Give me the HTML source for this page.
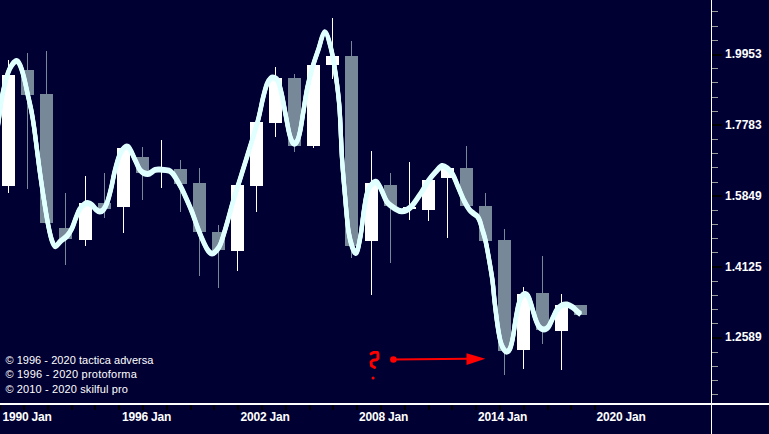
<!DOCTYPE html>
<html><head><meta charset="utf-8"><title>chart</title>
<style>
html,body{margin:0;padding:0;background:#000033;}
body{width:769px;height:434px;overflow:hidden;position:relative;font-family:"Liberation Sans",sans-serif;color:#fff;}
.xl{position:absolute;top:410px;font-size:12px;line-height:14px;font-weight:bold;white-space:nowrap;letter-spacing:-0.2px;}
.yl{position:absolute;left:725px;font-size:12px;line-height:14px;font-weight:bold;white-space:nowrap;}
.cp{position:absolute;left:5.4px;font-size:11px;line-height:14px;white-space:nowrap;}
</style></head><body>
<svg width="769" height="434" viewBox="0 0 769 434" style="position:absolute;left:0;top:0">
<rect width="769" height="434" fill="#000033"/>
<g shape-rendering="crispEdges">
<rect x="8" y="60" width="1" height="133" fill="#ffffff"/>
<rect x="2" y="75" width="13" height="110.5" fill="#ffffff"/>
<rect x="27" y="53" width="1" height="136" fill="#778899"/>
<rect x="21" y="70" width="13" height="24.5" fill="#778899"/>
<rect x="46" y="51" width="1" height="172" fill="#778899"/>
<rect x="40" y="94" width="13" height="129" fill="#778899"/>
<rect x="65" y="193" width="1" height="71.5" fill="#778899"/>
<rect x="59" y="228" width="13" height="10.5" fill="#778899"/>
<rect x="85" y="176" width="1" height="70" fill="#ffffff"/>
<rect x="79" y="203" width="13" height="37" fill="#ffffff"/>
<rect x="104" y="173.3" width="1" height="44.2" fill="#778899"/>
<rect x="98" y="203" width="13" height="5.7" fill="#778899"/>
<rect x="123" y="147.7" width="1" height="85.3" fill="#ffffff"/>
<rect x="117" y="147.7" width="13" height="59" fill="#ffffff"/>
<rect x="142" y="147" width="1" height="52.5" fill="#778899"/>
<rect x="136" y="157" width="13" height="16.3" fill="#778899"/>
<rect x="161" y="140" width="1" height="48" fill="#ffffff"/>
<rect x="155" y="169" width="13" height="1" fill="#ffffff"/>
<rect x="180" y="160" width="1" height="51.7" fill="#778899"/>
<rect x="174" y="169" width="13" height="14.7" fill="#778899"/>
<rect x="199" y="168" width="1" height="108" fill="#778899"/>
<rect x="193" y="183" width="13" height="48.7" fill="#778899"/>
<rect x="218" y="225" width="1" height="63" fill="#778899"/>
<rect x="212" y="231.5" width="13" height="18.8" fill="#778899"/>
<rect x="237" y="185" width="1" height="86" fill="#ffffff"/>
<rect x="231" y="185" width="13" height="65.5" fill="#ffffff"/>
<rect x="256" y="122" width="1" height="89.7" fill="#ffffff"/>
<rect x="250" y="122" width="13" height="64" fill="#ffffff"/>
<rect x="275" y="67" width="1" height="69.7" fill="#ffffff"/>
<rect x="269" y="78" width="13" height="44.5" fill="#ffffff"/>
<rect x="294" y="74" width="1" height="77.7" fill="#778899"/>
<rect x="288" y="78" width="13" height="67.5" fill="#778899"/>
<rect x="313" y="58" width="1" height="89.5" fill="#ffffff"/>
<rect x="307" y="65" width="13" height="81" fill="#ffffff"/>
<rect x="332" y="18" width="1" height="60.7" fill="#ffffff"/>
<rect x="326" y="56" width="13" height="9" fill="#ffffff"/>
<rect x="351" y="41" width="1" height="217" fill="#778899"/>
<rect x="345" y="56" width="13" height="190" fill="#778899"/>
<rect x="371" y="151" width="1" height="144.2" fill="#ffffff"/>
<rect x="365" y="183" width="13" height="57.6" fill="#ffffff"/>
<rect x="390" y="173" width="1" height="89.7" fill="#778899"/>
<rect x="384" y="185" width="13" height="20.7" fill="#778899"/>
<rect x="409" y="161.8" width="1" height="57.9" fill="#ffffff"/>
<rect x="403" y="207" width="13" height="2" fill="#ffffff"/>
<rect x="428" y="180" width="1" height="41" fill="#ffffff"/>
<rect x="422" y="180" width="13" height="29.7" fill="#ffffff"/>
<rect x="447" y="168" width="1" height="70" fill="#ffffff"/>
<rect x="441" y="168" width="13" height="10" fill="#ffffff"/>
<rect x="466" y="146" width="1" height="60" fill="#778899"/>
<rect x="460" y="168" width="13" height="38" fill="#778899"/>
<rect x="485" y="193" width="1" height="47.5" fill="#778899"/>
<rect x="479" y="206" width="13" height="34.5" fill="#778899"/>
<rect x="504" y="229" width="1" height="146" fill="#778899"/>
<rect x="498" y="239.7" width="13" height="111" fill="#778899"/>
<rect x="523" y="287" width="1" height="81.7" fill="#ffffff"/>
<rect x="517" y="293.7" width="13" height="56.3" fill="#ffffff"/>
<rect x="542" y="256" width="1" height="87.7" fill="#778899"/>
<rect x="536" y="293" width="13" height="37" fill="#778899"/>
<rect x="561" y="294.2" width="1" height="75.8" fill="#ffffff"/>
<rect x="555" y="305" width="13" height="25.7" fill="#ffffff"/>
<rect x="580" y="305" width="1" height="10" fill="#778899"/>
<rect x="574" y="305" width="13" height="10" fill="#778899"/>
</g>
<g fill="none" stroke="#e0ffff" stroke-width="4.2" stroke-linejoin="round">
<path d="M-3.00,132.00 C-2.50,128.50 -0.80,116.67 0.00,111.00 C0.80,105.33 1.03,102.33 1.80,98.00 C2.57,93.67 3.52,89.32 4.60,85.00 C5.68,80.68 7.07,75.47 8.30,72.10 C9.53,68.73 10.62,66.63 12.00,64.80 C13.38,62.97 15.22,60.95 16.60,61.10 C17.98,61.25 19.07,62.93 20.30,65.70 C21.53,68.47 22.77,72.93 24.00,77.70 C25.23,82.47 26.47,88.77 27.70,94.30 C28.93,99.83 30.33,105.37 31.40,110.90 C32.47,116.43 33.17,120.98 34.10,127.50 C35.03,134.02 35.97,142.03 37.00,150.00 C38.03,157.97 39.12,166.85 40.30,175.30 C41.48,183.75 42.83,192.67 44.10,200.70 C45.37,208.73 46.63,216.97 47.90,223.50 C49.17,230.03 50.43,236.10 51.70,239.90 C52.97,243.70 54.03,246.08 55.50,246.30 C56.97,246.52 58.60,242.90 60.50,241.20 C62.40,239.50 65.00,238.22 66.90,236.10 C68.80,233.98 70.43,231.45 71.90,228.50 C73.37,225.55 74.43,221.57 75.70,218.40 C76.97,215.23 78.02,211.90 79.50,209.50 C80.98,207.10 83.12,205.05 84.60,204.00 C86.08,202.95 87.13,203.00 88.40,203.20 C89.67,203.40 90.93,204.15 92.20,205.20 C93.47,206.25 94.73,208.43 96.00,209.50 C97.27,210.57 98.53,211.60 99.80,211.60 C101.07,211.60 102.33,211.12 103.60,209.50 C104.87,207.88 106.13,205.48 107.40,201.90 C108.67,198.32 109.93,193.27 111.20,188.00 C112.47,182.73 113.45,176.13 115.00,170.30 C116.55,164.47 118.33,156.92 120.50,153.00 C122.67,149.08 125.53,145.57 128.00,146.80 C130.47,148.03 133.23,156.45 135.30,160.40 C137.37,164.35 138.32,168.23 140.40,170.50 C142.48,172.77 145.35,174.10 147.80,174.00 C150.25,173.90 152.80,170.62 155.10,169.90 C157.40,169.18 159.28,169.57 161.60,169.70 C163.92,169.83 167.17,170.08 169.00,170.70 C170.83,171.32 171.38,172.02 172.60,173.40 C173.82,174.78 175.07,177.00 176.30,179.00 C177.53,181.00 178.77,183.10 180.00,185.40 C181.23,187.70 181.78,188.58 183.70,192.80 C185.62,197.02 189.13,204.77 191.50,210.70 C193.87,216.63 195.78,222.92 197.90,228.40 C200.02,233.88 202.52,239.92 204.20,243.60 C205.88,247.28 206.70,248.85 208.00,250.50 C209.30,252.15 210.58,253.50 212.00,253.50 C213.42,253.50 215.05,252.15 216.50,250.50 C217.95,248.85 218.95,248.13 220.70,243.60 C222.45,239.07 224.90,230.48 227.00,223.30 C229.10,216.12 231.18,207.67 233.30,200.50 C235.42,193.33 237.58,187.05 239.70,180.30 C241.82,173.55 244.23,165.70 246.00,160.00 C247.77,154.30 248.32,152.63 250.30,146.10 C252.28,139.57 255.78,128.82 257.90,120.80 C260.02,112.78 261.52,104.05 263.00,98.00 C264.48,91.95 265.53,87.77 266.80,84.50 C268.07,81.23 269.33,79.52 270.60,78.40 C271.87,77.28 273.13,77.28 274.40,77.80 C275.67,78.32 276.93,78.55 278.20,81.50 C279.47,84.45 280.73,89.80 282.00,95.50 C283.27,101.20 284.53,109.17 285.80,115.70 C287.07,122.23 288.33,130.10 289.60,134.70 C290.87,139.30 292.13,142.25 293.40,143.30 C294.67,144.35 296.07,143.07 297.20,141.00 C298.33,138.93 299.15,135.95 300.20,130.90 C301.25,125.85 302.32,117.87 303.50,110.70 C304.68,103.53 305.82,95.08 307.30,87.90 C308.78,80.72 310.57,73.92 312.40,67.60 C314.22,61.28 316.22,55.88 318.25,50.00 C320.28,44.12 322.52,32.72 324.60,32.30 C326.68,31.88 328.89,40.38 330.75,47.50 C332.61,54.62 334.29,64.92 335.75,75.00 C337.21,85.08 338.46,94.17 339.50,108.00 C340.54,121.83 341.08,143.42 342.00,158.00 C342.92,172.58 343.85,182.90 345.00,195.50 C346.15,208.10 347.12,224.02 348.90,233.60 C350.68,243.18 353.77,252.60 355.70,253.00 C357.63,253.40 359.12,243.17 360.50,236.00 C361.88,228.83 362.77,217.58 364.00,210.00 C365.23,202.42 365.98,195.22 367.90,190.50 C369.82,185.78 373.40,182.12 375.50,181.70 C377.60,181.28 378.60,184.63 380.50,188.00 C382.40,191.37 384.57,198.52 386.90,201.90 C389.23,205.28 391.98,206.73 394.50,208.30 C397.02,209.87 399.27,211.52 402.00,211.30 C404.73,211.08 407.73,210.05 410.90,207.00 C414.07,203.95 418.03,197.43 421.00,193.00 C423.97,188.57 426.20,183.98 428.70,180.40 C431.20,176.82 433.78,173.90 436.00,171.50 C438.22,169.10 440.10,166.53 442.00,166.00 C443.90,165.47 445.58,166.85 447.40,168.30 C449.22,169.75 451.07,171.48 452.90,174.70 C454.73,177.92 456.55,183.28 458.40,187.60 C460.25,191.92 462.15,196.90 464.00,200.60 C465.85,204.30 467.83,207.60 469.50,209.80 C471.17,212.00 472.67,212.68 474.00,213.80 C475.33,214.92 476.50,215.22 477.50,216.50 C478.50,217.78 479.25,219.50 480.00,221.50 C480.75,223.50 481.13,225.53 482.00,228.50 C482.87,231.47 484.20,235.13 485.20,239.30 C486.20,243.47 486.80,246.72 488.00,253.50 C489.20,260.28 491.32,272.13 492.40,280.00 C493.48,287.87 493.63,293.10 494.50,300.70 C495.37,308.30 496.57,318.68 497.60,325.60 C498.63,332.52 499.65,338.22 500.70,342.20 C501.75,346.18 502.85,347.93 503.90,349.50 C504.95,351.07 505.97,351.77 507.00,351.60 C508.03,351.43 509.13,350.77 510.10,348.50 C511.07,346.23 511.93,342.50 512.80,338.00 C513.67,333.50 514.37,327.00 515.30,321.50 C516.23,316.00 517.37,309.15 518.40,305.00 C519.43,300.85 520.37,298.42 521.50,296.60 C522.63,294.78 523.98,293.93 525.20,294.10 C526.42,294.27 527.68,295.45 528.80,297.60 C529.92,299.75 530.77,303.37 531.90,307.00 C533.03,310.63 534.40,316.12 535.60,319.40 C536.80,322.68 537.72,325.03 539.10,326.70 C540.48,328.37 542.33,329.40 543.90,329.40 C545.47,329.40 547.05,328.53 548.50,326.70 C549.95,324.87 551.22,321.18 552.60,318.40 C553.98,315.62 555.23,312.18 556.80,310.00 C558.37,307.82 560.28,306.22 562.00,305.30 C563.72,304.38 565.38,304.22 567.10,304.50 C568.82,304.78 570.73,305.97 572.30,307.00 C573.87,308.03 575.12,309.50 576.50,310.70 C577.88,311.90 579.92,313.62 580.60,314.20" transform="translate(0,-0.9)"/>
<path d="M-3.00,132.00 C-2.50,128.50 -0.80,116.67 0.00,111.00 C0.80,105.33 1.03,102.33 1.80,98.00 C2.57,93.67 3.52,89.32 4.60,85.00 C5.68,80.68 7.07,75.47 8.30,72.10 C9.53,68.73 10.62,66.63 12.00,64.80 C13.38,62.97 15.22,60.95 16.60,61.10 C17.98,61.25 19.07,62.93 20.30,65.70 C21.53,68.47 22.77,72.93 24.00,77.70 C25.23,82.47 26.47,88.77 27.70,94.30 C28.93,99.83 30.33,105.37 31.40,110.90 C32.47,116.43 33.17,120.98 34.10,127.50 C35.03,134.02 35.97,142.03 37.00,150.00 C38.03,157.97 39.12,166.85 40.30,175.30 C41.48,183.75 42.83,192.67 44.10,200.70 C45.37,208.73 46.63,216.97 47.90,223.50 C49.17,230.03 50.43,236.10 51.70,239.90 C52.97,243.70 54.03,246.08 55.50,246.30 C56.97,246.52 58.60,242.90 60.50,241.20 C62.40,239.50 65.00,238.22 66.90,236.10 C68.80,233.98 70.43,231.45 71.90,228.50 C73.37,225.55 74.43,221.57 75.70,218.40 C76.97,215.23 78.02,211.90 79.50,209.50 C80.98,207.10 83.12,205.05 84.60,204.00 C86.08,202.95 87.13,203.00 88.40,203.20 C89.67,203.40 90.93,204.15 92.20,205.20 C93.47,206.25 94.73,208.43 96.00,209.50 C97.27,210.57 98.53,211.60 99.80,211.60 C101.07,211.60 102.33,211.12 103.60,209.50 C104.87,207.88 106.13,205.48 107.40,201.90 C108.67,198.32 109.93,193.27 111.20,188.00 C112.47,182.73 113.45,176.13 115.00,170.30 C116.55,164.47 118.33,156.92 120.50,153.00 C122.67,149.08 125.53,145.57 128.00,146.80 C130.47,148.03 133.23,156.45 135.30,160.40 C137.37,164.35 138.32,168.23 140.40,170.50 C142.48,172.77 145.35,174.10 147.80,174.00 C150.25,173.90 152.80,170.62 155.10,169.90 C157.40,169.18 159.28,169.57 161.60,169.70 C163.92,169.83 167.17,170.08 169.00,170.70 C170.83,171.32 171.38,172.02 172.60,173.40 C173.82,174.78 175.07,177.00 176.30,179.00 C177.53,181.00 178.77,183.10 180.00,185.40 C181.23,187.70 181.78,188.58 183.70,192.80 C185.62,197.02 189.13,204.77 191.50,210.70 C193.87,216.63 195.78,222.92 197.90,228.40 C200.02,233.88 202.52,239.92 204.20,243.60 C205.88,247.28 206.70,248.85 208.00,250.50 C209.30,252.15 210.58,253.50 212.00,253.50 C213.42,253.50 215.05,252.15 216.50,250.50 C217.95,248.85 218.95,248.13 220.70,243.60 C222.45,239.07 224.90,230.48 227.00,223.30 C229.10,216.12 231.18,207.67 233.30,200.50 C235.42,193.33 237.58,187.05 239.70,180.30 C241.82,173.55 244.23,165.70 246.00,160.00 C247.77,154.30 248.32,152.63 250.30,146.10 C252.28,139.57 255.78,128.82 257.90,120.80 C260.02,112.78 261.52,104.05 263.00,98.00 C264.48,91.95 265.53,87.77 266.80,84.50 C268.07,81.23 269.33,79.52 270.60,78.40 C271.87,77.28 273.13,77.28 274.40,77.80 C275.67,78.32 276.93,78.55 278.20,81.50 C279.47,84.45 280.73,89.80 282.00,95.50 C283.27,101.20 284.53,109.17 285.80,115.70 C287.07,122.23 288.33,130.10 289.60,134.70 C290.87,139.30 292.13,142.25 293.40,143.30 C294.67,144.35 296.07,143.07 297.20,141.00 C298.33,138.93 299.15,135.95 300.20,130.90 C301.25,125.85 302.32,117.87 303.50,110.70 C304.68,103.53 305.82,95.08 307.30,87.90 C308.78,80.72 310.57,73.92 312.40,67.60 C314.22,61.28 316.22,55.88 318.25,50.00 C320.28,44.12 322.52,32.72 324.60,32.30 C326.68,31.88 328.89,40.38 330.75,47.50 C332.61,54.62 334.29,64.92 335.75,75.00 C337.21,85.08 338.46,94.17 339.50,108.00 C340.54,121.83 341.08,143.42 342.00,158.00 C342.92,172.58 343.85,182.90 345.00,195.50 C346.15,208.10 347.12,224.02 348.90,233.60 C350.68,243.18 353.77,252.60 355.70,253.00 C357.63,253.40 359.12,243.17 360.50,236.00 C361.88,228.83 362.77,217.58 364.00,210.00 C365.23,202.42 365.98,195.22 367.90,190.50 C369.82,185.78 373.40,182.12 375.50,181.70 C377.60,181.28 378.60,184.63 380.50,188.00 C382.40,191.37 384.57,198.52 386.90,201.90 C389.23,205.28 391.98,206.73 394.50,208.30 C397.02,209.87 399.27,211.52 402.00,211.30 C404.73,211.08 407.73,210.05 410.90,207.00 C414.07,203.95 418.03,197.43 421.00,193.00 C423.97,188.57 426.20,183.98 428.70,180.40 C431.20,176.82 433.78,173.90 436.00,171.50 C438.22,169.10 440.10,166.53 442.00,166.00 C443.90,165.47 445.58,166.85 447.40,168.30 C449.22,169.75 451.07,171.48 452.90,174.70 C454.73,177.92 456.55,183.28 458.40,187.60 C460.25,191.92 462.15,196.90 464.00,200.60 C465.85,204.30 467.83,207.60 469.50,209.80 C471.17,212.00 472.67,212.68 474.00,213.80 C475.33,214.92 476.50,215.22 477.50,216.50 C478.50,217.78 479.25,219.50 480.00,221.50 C480.75,223.50 481.13,225.53 482.00,228.50 C482.87,231.47 484.20,235.13 485.20,239.30 C486.20,243.47 486.80,246.72 488.00,253.50 C489.20,260.28 491.32,272.13 492.40,280.00 C493.48,287.87 493.63,293.10 494.50,300.70 C495.37,308.30 496.57,318.68 497.60,325.60 C498.63,332.52 499.65,338.22 500.70,342.20 C501.75,346.18 502.85,347.93 503.90,349.50 C504.95,351.07 505.97,351.77 507.00,351.60 C508.03,351.43 509.13,350.77 510.10,348.50 C511.07,346.23 511.93,342.50 512.80,338.00 C513.67,333.50 514.37,327.00 515.30,321.50 C516.23,316.00 517.37,309.15 518.40,305.00 C519.43,300.85 520.37,298.42 521.50,296.60 C522.63,294.78 523.98,293.93 525.20,294.10 C526.42,294.27 527.68,295.45 528.80,297.60 C529.92,299.75 530.77,303.37 531.90,307.00 C533.03,310.63 534.40,316.12 535.60,319.40 C536.80,322.68 537.72,325.03 539.10,326.70 C540.48,328.37 542.33,329.40 543.90,329.40 C545.47,329.40 547.05,328.53 548.50,326.70 C549.95,324.87 551.22,321.18 552.60,318.40 C553.98,315.62 555.23,312.18 556.80,310.00 C558.37,307.82 560.28,306.22 562.00,305.30 C563.72,304.38 565.38,304.22 567.10,304.50 C568.82,304.78 570.73,305.97 572.30,307.00 C573.87,308.03 575.12,309.50 576.50,310.70 C577.88,311.90 579.92,313.62 580.60,314.20" transform="translate(0,0)"/>
<path d="M-3.00,132.00 C-2.50,128.50 -0.80,116.67 0.00,111.00 C0.80,105.33 1.03,102.33 1.80,98.00 C2.57,93.67 3.52,89.32 4.60,85.00 C5.68,80.68 7.07,75.47 8.30,72.10 C9.53,68.73 10.62,66.63 12.00,64.80 C13.38,62.97 15.22,60.95 16.60,61.10 C17.98,61.25 19.07,62.93 20.30,65.70 C21.53,68.47 22.77,72.93 24.00,77.70 C25.23,82.47 26.47,88.77 27.70,94.30 C28.93,99.83 30.33,105.37 31.40,110.90 C32.47,116.43 33.17,120.98 34.10,127.50 C35.03,134.02 35.97,142.03 37.00,150.00 C38.03,157.97 39.12,166.85 40.30,175.30 C41.48,183.75 42.83,192.67 44.10,200.70 C45.37,208.73 46.63,216.97 47.90,223.50 C49.17,230.03 50.43,236.10 51.70,239.90 C52.97,243.70 54.03,246.08 55.50,246.30 C56.97,246.52 58.60,242.90 60.50,241.20 C62.40,239.50 65.00,238.22 66.90,236.10 C68.80,233.98 70.43,231.45 71.90,228.50 C73.37,225.55 74.43,221.57 75.70,218.40 C76.97,215.23 78.02,211.90 79.50,209.50 C80.98,207.10 83.12,205.05 84.60,204.00 C86.08,202.95 87.13,203.00 88.40,203.20 C89.67,203.40 90.93,204.15 92.20,205.20 C93.47,206.25 94.73,208.43 96.00,209.50 C97.27,210.57 98.53,211.60 99.80,211.60 C101.07,211.60 102.33,211.12 103.60,209.50 C104.87,207.88 106.13,205.48 107.40,201.90 C108.67,198.32 109.93,193.27 111.20,188.00 C112.47,182.73 113.45,176.13 115.00,170.30 C116.55,164.47 118.33,156.92 120.50,153.00 C122.67,149.08 125.53,145.57 128.00,146.80 C130.47,148.03 133.23,156.45 135.30,160.40 C137.37,164.35 138.32,168.23 140.40,170.50 C142.48,172.77 145.35,174.10 147.80,174.00 C150.25,173.90 152.80,170.62 155.10,169.90 C157.40,169.18 159.28,169.57 161.60,169.70 C163.92,169.83 167.17,170.08 169.00,170.70 C170.83,171.32 171.38,172.02 172.60,173.40 C173.82,174.78 175.07,177.00 176.30,179.00 C177.53,181.00 178.77,183.10 180.00,185.40 C181.23,187.70 181.78,188.58 183.70,192.80 C185.62,197.02 189.13,204.77 191.50,210.70 C193.87,216.63 195.78,222.92 197.90,228.40 C200.02,233.88 202.52,239.92 204.20,243.60 C205.88,247.28 206.70,248.85 208.00,250.50 C209.30,252.15 210.58,253.50 212.00,253.50 C213.42,253.50 215.05,252.15 216.50,250.50 C217.95,248.85 218.95,248.13 220.70,243.60 C222.45,239.07 224.90,230.48 227.00,223.30 C229.10,216.12 231.18,207.67 233.30,200.50 C235.42,193.33 237.58,187.05 239.70,180.30 C241.82,173.55 244.23,165.70 246.00,160.00 C247.77,154.30 248.32,152.63 250.30,146.10 C252.28,139.57 255.78,128.82 257.90,120.80 C260.02,112.78 261.52,104.05 263.00,98.00 C264.48,91.95 265.53,87.77 266.80,84.50 C268.07,81.23 269.33,79.52 270.60,78.40 C271.87,77.28 273.13,77.28 274.40,77.80 C275.67,78.32 276.93,78.55 278.20,81.50 C279.47,84.45 280.73,89.80 282.00,95.50 C283.27,101.20 284.53,109.17 285.80,115.70 C287.07,122.23 288.33,130.10 289.60,134.70 C290.87,139.30 292.13,142.25 293.40,143.30 C294.67,144.35 296.07,143.07 297.20,141.00 C298.33,138.93 299.15,135.95 300.20,130.90 C301.25,125.85 302.32,117.87 303.50,110.70 C304.68,103.53 305.82,95.08 307.30,87.90 C308.78,80.72 310.57,73.92 312.40,67.60 C314.22,61.28 316.22,55.88 318.25,50.00 C320.28,44.12 322.52,32.72 324.60,32.30 C326.68,31.88 328.89,40.38 330.75,47.50 C332.61,54.62 334.29,64.92 335.75,75.00 C337.21,85.08 338.46,94.17 339.50,108.00 C340.54,121.83 341.08,143.42 342.00,158.00 C342.92,172.58 343.85,182.90 345.00,195.50 C346.15,208.10 347.12,224.02 348.90,233.60 C350.68,243.18 353.77,252.60 355.70,253.00 C357.63,253.40 359.12,243.17 360.50,236.00 C361.88,228.83 362.77,217.58 364.00,210.00 C365.23,202.42 365.98,195.22 367.90,190.50 C369.82,185.78 373.40,182.12 375.50,181.70 C377.60,181.28 378.60,184.63 380.50,188.00 C382.40,191.37 384.57,198.52 386.90,201.90 C389.23,205.28 391.98,206.73 394.50,208.30 C397.02,209.87 399.27,211.52 402.00,211.30 C404.73,211.08 407.73,210.05 410.90,207.00 C414.07,203.95 418.03,197.43 421.00,193.00 C423.97,188.57 426.20,183.98 428.70,180.40 C431.20,176.82 433.78,173.90 436.00,171.50 C438.22,169.10 440.10,166.53 442.00,166.00 C443.90,165.47 445.58,166.85 447.40,168.30 C449.22,169.75 451.07,171.48 452.90,174.70 C454.73,177.92 456.55,183.28 458.40,187.60 C460.25,191.92 462.15,196.90 464.00,200.60 C465.85,204.30 467.83,207.60 469.50,209.80 C471.17,212.00 472.67,212.68 474.00,213.80 C475.33,214.92 476.50,215.22 477.50,216.50 C478.50,217.78 479.25,219.50 480.00,221.50 C480.75,223.50 481.13,225.53 482.00,228.50 C482.87,231.47 484.20,235.13 485.20,239.30 C486.20,243.47 486.80,246.72 488.00,253.50 C489.20,260.28 491.32,272.13 492.40,280.00 C493.48,287.87 493.63,293.10 494.50,300.70 C495.37,308.30 496.57,318.68 497.60,325.60 C498.63,332.52 499.65,338.22 500.70,342.20 C501.75,346.18 502.85,347.93 503.90,349.50 C504.95,351.07 505.97,351.77 507.00,351.60 C508.03,351.43 509.13,350.77 510.10,348.50 C511.07,346.23 511.93,342.50 512.80,338.00 C513.67,333.50 514.37,327.00 515.30,321.50 C516.23,316.00 517.37,309.15 518.40,305.00 C519.43,300.85 520.37,298.42 521.50,296.60 C522.63,294.78 523.98,293.93 525.20,294.10 C526.42,294.27 527.68,295.45 528.80,297.60 C529.92,299.75 530.77,303.37 531.90,307.00 C533.03,310.63 534.40,316.12 535.60,319.40 C536.80,322.68 537.72,325.03 539.10,326.70 C540.48,328.37 542.33,329.40 543.90,329.40 C545.47,329.40 547.05,328.53 548.50,326.70 C549.95,324.87 551.22,321.18 552.60,318.40 C553.98,315.62 555.23,312.18 556.80,310.00 C558.37,307.82 560.28,306.22 562.00,305.30 C563.72,304.38 565.38,304.22 567.10,304.50 C568.82,304.78 570.73,305.97 572.30,307.00 C573.87,308.03 575.12,309.50 576.50,310.70 C577.88,311.90 579.92,313.62 580.60,314.20" transform="translate(0,0.9)"/>
</g>
<g shape-rendering="crispEdges">
<rect x="-1" y="404" width="2" height="6" fill="#000"/>
<rect x="23" y="404" width="2" height="6" fill="#000"/>
<rect x="47" y="404" width="2" height="6" fill="#000"/>
<rect x="71" y="404" width="2" height="6" fill="#000"/>
<rect x="94" y="404" width="2" height="6" fill="#000"/>
<rect x="118" y="404" width="2" height="6" fill="#000"/>
<rect x="142" y="404" width="2" height="6" fill="#000"/>
<rect x="166" y="404" width="2" height="6" fill="#000"/>
<rect x="190" y="404" width="2" height="6" fill="#000"/>
<rect x="213" y="404" width="2" height="6" fill="#000"/>
<rect x="237" y="404" width="2" height="6" fill="#000"/>
<rect x="261" y="404" width="2" height="6" fill="#000"/>
<rect x="285" y="404" width="2" height="6" fill="#000"/>
<rect x="309" y="404" width="2" height="6" fill="#000"/>
<rect x="332" y="404" width="2" height="6" fill="#000"/>
<rect x="356" y="404" width="2" height="6" fill="#000"/>
<rect x="380" y="404" width="2" height="6" fill="#000"/>
<rect x="404" y="404" width="2" height="6" fill="#000"/>
<rect x="428" y="404" width="2" height="6" fill="#000"/>
<rect x="451" y="404" width="2" height="6" fill="#000"/>
<rect x="475" y="404" width="2" height="6" fill="#000"/>
<rect x="499" y="404" width="2" height="6" fill="#000"/>
<rect x="523" y="404" width="2" height="6" fill="#000"/>
<rect x="547" y="404" width="2" height="6" fill="#000"/>
<rect x="570" y="404" width="2" height="6" fill="#000"/>
<rect x="594" y="404" width="2" height="6" fill="#000"/>
<rect x="712" y="11.49" width="6" height="1" fill="#999"/>
<rect x="712" y="25.66" width="6" height="1" fill="#999"/>
<rect x="712" y="39.83" width="6" height="1" fill="#999"/>
<rect x="712" y="53.5" width="10" height="2" fill="#000"/>
<rect x="712" y="68.17" width="6" height="1" fill="#999"/>
<rect x="712" y="82.34" width="6" height="1" fill="#999"/>
<rect x="712" y="96.51" width="6" height="1" fill="#999"/>
<rect x="712" y="110.68" width="6" height="1" fill="#999"/>
<rect x="712" y="124.35" width="10" height="2" fill="#000"/>
<rect x="712" y="139.02" width="6" height="1" fill="#999"/>
<rect x="712" y="153.19" width="6" height="1" fill="#999"/>
<rect x="712" y="167.36" width="6" height="1" fill="#999"/>
<rect x="712" y="181.53" width="6" height="1" fill="#999"/>
<rect x="712" y="195.2" width="10" height="2" fill="#000"/>
<rect x="712" y="209.87" width="6" height="1" fill="#999"/>
<rect x="712" y="224.04" width="6" height="1" fill="#999"/>
<rect x="712" y="238.21" width="6" height="1" fill="#999"/>
<rect x="712" y="252.38" width="6" height="1" fill="#999"/>
<rect x="712" y="266.05" width="10" height="2" fill="#000"/>
<rect x="712" y="280.72" width="6" height="1" fill="#999"/>
<rect x="712" y="294.89" width="6" height="1" fill="#999"/>
<rect x="712" y="309.06" width="6" height="1" fill="#999"/>
<rect x="712" y="323.23" width="6" height="1" fill="#999"/>
<rect x="712" y="336.9" width="10" height="2" fill="#000"/>
<rect x="712" y="351.57" width="6" height="1" fill="#999"/>
<rect x="712" y="365.74" width="6" height="1" fill="#999"/>
<rect x="712" y="379.91" width="6" height="1" fill="#999"/>
<rect x="712" y="394.08" width="6" height="1" fill="#999"/>
<rect x="0" y="403" width="769" height="2" fill="#fff"/>
<rect x="711" y="0" width="1" height="434" fill="#fff"/>
</g>
<path d="M371.1,353.8 L373.8,352.4 L377.5,352.4 L378,354.2 L378,358.4 L376.6,359.7 L372.9,360.2 L371.1,362.1 L371.5,365.7 L374.7,367.6" fill="none" stroke="#ff0000" stroke-width="2.9" stroke-linecap="round" stroke-linejoin="round"/>
<circle cx="373.1" cy="378" r="1.5" fill="#ff0000"/>
<circle cx="393.4" cy="359.5" r="3.3" fill="#ff0000"/>
<line x1="393.4" y1="359.5" x2="468" y2="358.8" stroke="#ff0000" stroke-width="2"/>
<polygon points="466.5,353.2 485.3,358.8 466.5,365" fill="#ff0000"/>
</svg>
<div class="xl" style="left:2.5px">1990 Jan</div>
<div class="xl" style="left:122px">1996 Jan</div>
<div class="xl" style="left:240.5px">2002 Jan</div>
<div class="xl" style="left:359px">2008 Jan</div>
<div class="xl" style="left:478px">2014 Jan</div>
<div class="xl" style="left:596.5px">2020 Jan</div>
<div class="yl" style="top:47px">1.9953</div>
<div class="yl" style="top:117.8px">1.7783</div>
<div class="yl" style="top:188.7px">1.5849</div>
<div class="yl" style="top:259.5px">1.4125</div>
<div class="yl" style="top:330.4px">1.2589</div>
<div class="cp" style="top:352.8px;letter-spacing:0.04px">© 1996 - 2020 tactica adversa</div>
<div class="cp" style="top:366.8px;letter-spacing:0.23px">© 1996 - 2020 protoforma</div>
<div class="cp" style="top:381.5px;letter-spacing:0.13px">© 2010 - 2020 skilful pro</div>
</body></html>
